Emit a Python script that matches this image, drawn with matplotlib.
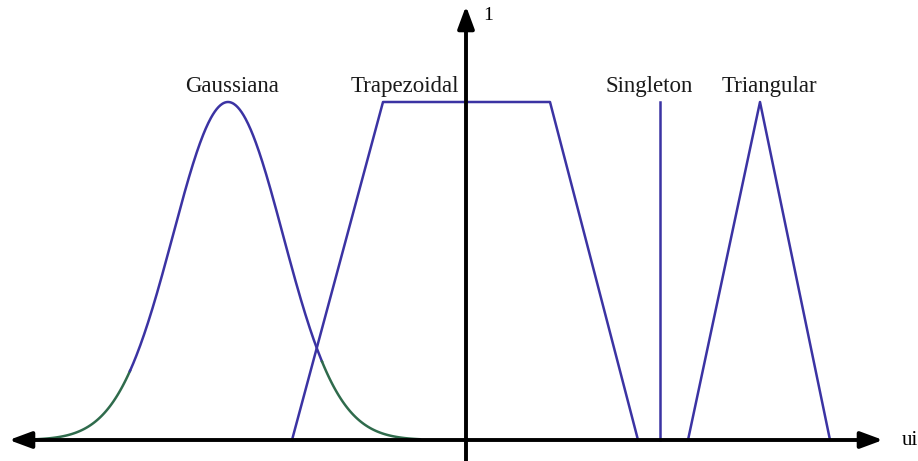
import numpy as np
import matplotlib
matplotlib.use("Agg")
import matplotlib.pyplot as plt

# ---- data (x in horizontal units relative to origin, y = membership degree) ----
gauss_center = -238.0
gauss_sigma = 55.0
gauss_range = [-431.0, -46.0]
gauss_tail_left = -336.0    # green tail ends / blue starts
gauss_tail_right = -144.0   # blue ends / green tail starts

trap_x = [-174.0, -83.0, 84.0, 172.0]
trap_y = [0.0, 1.0, 1.0, 0.0]

singleton_x = 194.0
singleton_y = [0.0, 1.0]

tri_x = [222.0, 294.0, 364.0]
tri_y = [0.0, 1.0, 0.0]

labels = ["Gaussiana", "Trapezoidal", "Singleton", "Triangular"]
label_x = [-234.0, -61.5, 183.5, 303.5]

blue = "#3b33a3"
green = "#2f6b4c"

fig = plt.figure(figsize=(9.18, 4.61), dpi=100)
ax = fig.add_axes([0, 0, 1, 1])
ax.set_xlim(-466, 452)
ax.set_ylim(-21 / 338, 440 / 338)
ax.axis("off")

def gauss(x):
    return np.exp(-(x - gauss_center) ** 2 / (2 * gauss_sigma ** 2))

xl = np.linspace(gauss_range[0], gauss_tail_left, 100)
xm = np.linspace(gauss_tail_left, gauss_tail_right, 300)
xr = np.linspace(gauss_tail_right, gauss_range[1], 100)
ax.plot(xl, gauss(xl), color=green, lw=1.8, zorder=3)
ax.plot(xm, gauss(xm), color=blue, lw=1.8, zorder=3)
ax.plot(xr, gauss(xr), color=green, lw=1.8, zorder=3)

ax.plot(trap_x, trap_y, color=blue, lw=1.8, zorder=3)
ax.plot([singleton_x, singleton_x], singleton_y, color=blue, lw=1.8, zorder=3)
ax.plot(tri_x, tri_y, color=blue, lw=1.8, zorder=3)

# axes with arrows
ax.annotate("", xy=(-457, 0), xytext=(417, 0),
            arrowprops=dict(arrowstyle="<|-|>,head_length=1.35,head_width=0.5",
                            color="black", lw=2.8, shrinkA=0, shrinkB=0), zorder=4)
ax.annotate("", xy=(0, 434 / 338), xytext=(0, -21 / 338),
            arrowprops=dict(arrowstyle="-|>,head_length=1.35,head_width=0.5",
                            color="black", lw=2.8, shrinkA=0, shrinkB=0), zorder=4)

ax.text(22, 425 / 338, "1", fontsize=14, family="Liberation Serif", ha="center", va="center")
ax.text(444, 0, "ui", fontsize=15, family="Liberation Serif", ha="center", va="center")

for lab, lx in zip(labels, label_x):
    ax.text(lx, (440 - 92) / 338, lab, fontsize=16.5, family="Liberation Serif",
            ha="center", va="baseline", color="#1a1a1a")

fig.savefig("out.png", dpi=100)
